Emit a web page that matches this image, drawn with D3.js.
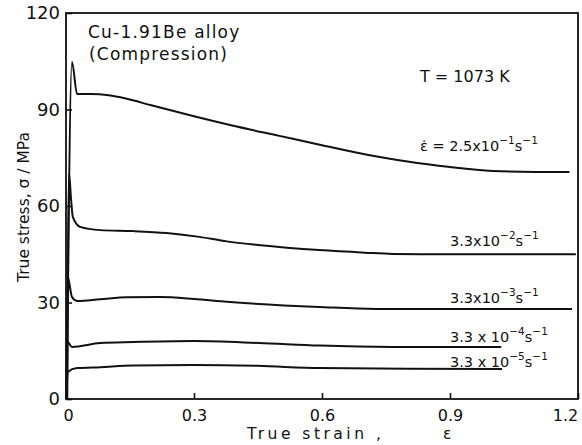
<!DOCTYPE html>
<html>
<head>
<meta charset="utf-8">
<script src="https://cdn.jsdelivr.net/npm/d3@7.9.0/dist/d3.min.js"></script>
<style>
  body { margin: 0; background: #fff; }
  svg text { font-family: "DejaVu Sans", sans-serif; fill: #111; }
</style>
</head>
<body>
<svg id="chart" width="582" height="445"></svg>
<script>
// strain rate curves (strain, true stress in MPa)
const strain1 = [0.002, 0.014, 0.026, 0.06, 0.1, 0.14, 0.2, 0.3, 0.4, 0.5, 0.6, 0.7, 0.8, 0.9, 1.0, 1.1, 1.18];
const stress1 = [0, 104.8, 94.8, 94.8, 94.4, 93.4, 91.3, 87.9, 84.7, 81.8, 78.9, 76.1, 73.8, 72.1, 70.9, 70.6, 70.6];

const strain2 = [0.003, 0.007, 0.012, 0.016, 0.033, 0.08, 0.157, 0.236, 0.313, 0.377, 0.45, 0.594, 0.7, 0.765, 0.883, 1.0, 1.195];
const stress2 = [0, 70, 61.9, 56.6, 53.5, 52.5, 52.2, 51.6, 50.4, 49.0, 47.9, 46.3, 45.5, 45.1, 45.0, 45.0, 45.0];

const strain3 = [0.001, 0.004, 0.014, 0.026, 0.08, 0.143, 0.22, 0.3, 0.377, 0.594, 0.727, 0.9, 1.186];
const stress3 = [0, 38, 31.7, 30.5, 31.0, 31.6, 31.7, 31.1, 30.2, 28.6, 28.0, 28.0, 28.0];

const strain4 = [0.001, 0.003, 0.014, 0.08, 0.157, 0.3, 0.453, 0.594, 0.765, 1.02];
const stress4 = [0, 17.9, 16.2, 17.4, 17.7, 18.0, 17.4, 16.6, 16.2, 16.2];

const strain5 = [0.001, 0.004, 0.026, 0.08, 0.157, 0.3, 0.45, 0.594, 0.8, 1.022];
const stress5 = [0, 8.4, 9.6, 9.9, 10.4, 10.6, 10.3, 9.6, 9.4, 9.3];

const xTicks = [0, 0.3, 0.6, 0.9, 1.2];
const yTicks = [0, 30, 60, 90, 120];

// rate labels: mantissa, exponent, stress level of the baseline
const rateLabels = [
  { pre: "ε̇ = 2.5x10", exp: "−1", y: 77 },
  { pre: "3.3x10", exp: "−2", y: 47.5 },
  { pre: "3.3x10", exp: "−3", y: 30 },
  { pre: "3.3 x 10", exp: "−4", y: 17.7 },
  { pre: "3.3 x 10", exp: "−5", y: 9.9 }
];

const svg = d3.select("#chart");
const margin = { left: 66, right: 4, top: 13, bottom: 46 };
const W = 582, H = 445;

const x = d3.scaleLinear().domain([0, 1.2]).range([margin.left, W - margin.right]);
const y = d3.scaleLinear().domain([0, 120]).range([H - margin.bottom, margin.top]);

// frame
svg.append("rect")
  .attr("x", x(0)).attr("y", y(120))
  .attr("width", x(1.2) - x(0)).attr("height", y(0) - y(120))
  .attr("fill", "none").attr("stroke", "#111").attr("stroke-width", 1.8);

// axes with inward ticks
const xAxis = d3.axisBottom(x).tickValues(xTicks).tickSizeInner(-6).tickSizeOuter(0)
  .tickFormat(d => d === 0 ? "0" : d3.format(".1f")(d)).tickPadding(11);
const gx = svg.append("g").attr("transform", `translate(0,${y(0)})`).call(xAxis);
gx.select(".domain").remove();
gx.selectAll("line").attr("stroke", "#111").attr("stroke-width", 1.6);
gx.selectAll("text").attr("font-size", 16);
gx.selectAll(".tick").filter(d => d === 1.2).select("text").attr("dx", -13);
gx.selectAll(".tick").filter(d => d === 0).select("text").attr("dx", 2);

const yAxis = d3.axisLeft(y).tickValues(yTicks).tickSizeInner(-6).tickSizeOuter(0).tickPadding(6);
const gy = svg.append("g").attr("transform", `translate(${x(0)},0)`).call(yAxis);
gy.select(".domain").remove();
gy.selectAll("line").attr("stroke", "#111").attr("stroke-width", 1.6);
gy.selectAll("text").attr("font-size", 18);

// curves
const line = d3.line()
  .x(d => x(d[0]))
  .y(d => y(d[1]))
  .curve(d3.curveMonotoneX);

const series = [
  d3.zip(strain1, stress1),
  d3.zip(strain2, stress2),
  d3.zip(strain3, stress3),
  d3.zip(strain4, stress4),
  d3.zip(strain5, stress5)
];

svg.selectAll("path.curve")
  .data(series)
  .enter()
  .append("path")
  .attr("class", "curve")
  .attr("d", line)
  .attr("fill", "none")
  .attr("stroke", "#111")
  .attr("stroke-width", 2);

// rate labels
rateLabels.forEach((r, i) => {
  const t = svg.append("text")
    .attr("x", i === 0 ? 420 : 450)
    .attr("y", y(r.y))
    .attr("font-size", 14.5);
  t.append("tspan").text(r.pre);
  t.append("tspan").attr("dy", -7).attr("font-size", 10.5).text(r.exp);
  t.append("tspan").attr("dy", 7).text("s");
  t.append("tspan").attr("dy", -7).attr("font-size", 10.5).text("−1");
});

// annotations
svg.append("text").attr("x", 88).attr("y", 38).attr("font-size", 17).attr("letter-spacing", 1.2).text("Cu-1.91Be alloy");
svg.append("text").attr("x", 89).attr("y", 60).attr("font-size", 17).attr("letter-spacing", 1.2).text("(Compression)");
svg.append("text").attr("x", 420).attr("y", 82).attr("font-size", 16).text("T = 1073 K");

// axis titles
svg.append("text")
  .attr("x", 247).attr("y", 439)
  .attr("font-size", 15.5)
  .attr("letter-spacing", 3.5)
  .text("True strain ,");
svg.append("text")
  .attr("x", 443).attr("y", 439)
  .attr("font-size", 15.5)
  .text("ε");

svg.append("text")
  .attr("transform", "translate(29,207) rotate(-90)")
  .attr("text-anchor", "middle")
  .attr("font-size", 15.5)
  .text("True stress,  σ / MPa");
</script>
</body>
</html>
